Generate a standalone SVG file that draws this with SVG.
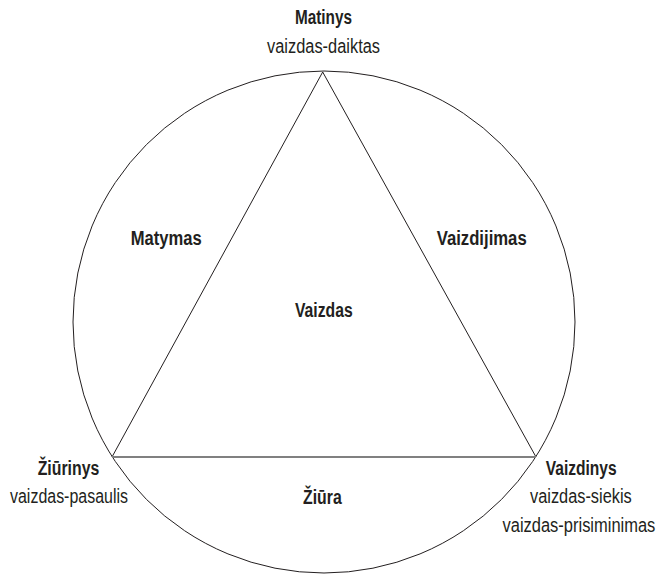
<svg xmlns="http://www.w3.org/2000/svg" width="661" height="576" viewBox="0 0 661 576">
<style>
.t{font-family:"Liberation Sans",Arial,sans-serif;fill:#231f20;text-anchor:start}
.b{font-weight:bold;font-size:19.5px}
.r{font-size:20px}
.ln{fill:none;stroke:#231f20;stroke-width:1}
.base{fill:none;stroke:#808080;stroke-width:2}
</style>
<rect width="661" height="576" fill="#fff"/>
<g id="connectors">
<circle class="ln" cx="324" cy="322" r="251"/>
<line class="ln" x1="322.7" y1="72" x2="112" y2="457"/>
<line class="ln" x1="322.7" y1="72" x2="536" y2="457"/>
<line class="base" x1="112" y1="457" x2="536" y2="457"/>
</g>
<g id="matinys">
<text class="t b" x="295" y="24" textLength="57" lengthAdjust="spacingAndGlyphs">Matinys</text>
<text class="t r" x="267" y="52.7" textLength="113" lengthAdjust="spacingAndGlyphs">vaizdas-daiktas</text>
</g>
<g id="ziurinys">
<text class="t b" x="37.7" y="475" textLength="61.6" lengthAdjust="spacingAndGlyphs">Žiūrinys</text>
<text class="t r" x="10" y="503" textLength="118" lengthAdjust="spacingAndGlyphs">vaizdas-pasaulis</text>
</g>
<g id="vaizdinys">
<text class="t b" x="545.7" y="475" textLength="71" lengthAdjust="spacingAndGlyphs">Vaizdinys</text>
<text class="t r" x="530" y="503" textLength="101.7" lengthAdjust="spacingAndGlyphs">vaizdas-siekis</text>
<text class="t r" transform="translate(502.5,531.7) scale(0.824,1)" x="0" y="0">vaizdas-prisiminimas</text>
</g>
<g id="matymas">
<text class="t b" x="130.7" y="245" textLength="71" lengthAdjust="spacingAndGlyphs">Matymas</text>
</g>
<g id="vaizdijimas">
<text class="t b" x="436.7" y="245" textLength="90" lengthAdjust="spacingAndGlyphs">Vaizdijimas</text>
</g>
<g id="vaizdas">
<text class="t b" x="295" y="316.7" textLength="57.7" lengthAdjust="spacingAndGlyphs">Vaizdas</text>
</g>
<g id="ziura">
<text class="t b" x="303" y="504" textLength="38.7" lengthAdjust="spacingAndGlyphs">Žiūra</text>
</g>
</svg>
